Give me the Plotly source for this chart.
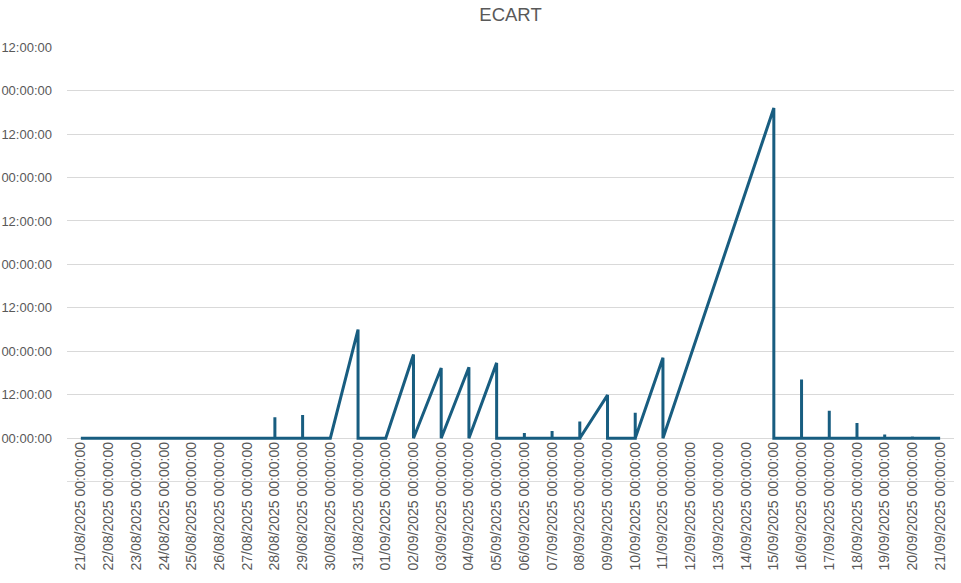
import plotly.graph_objects as go

# ECART series (hours), points in chronological order; repeated dates give vertical drops
dates = [
    "2025-08-21", "2025-08-22", "2025-08-23",
    "2025-08-24", "2025-08-24", "2025-08-24",
    "2025-08-25", "2025-08-25", "2025-08-25",
    "2025-08-26", "2025-08-26", "2025-08-26",
    "2025-08-27", "2025-08-27", "2025-08-27",
    "2025-08-28", "2025-08-28", "2025-08-28",
    "2025-08-29", "2025-08-29", "2025-08-29",
    "2025-08-30",
    "2025-08-31", "2025-08-31",
    "2025-09-01",
    "2025-09-02", "2025-09-02",
    "2025-09-03", "2025-09-03",
    "2025-09-04", "2025-09-04",
    "2025-09-05", "2025-09-05",
    "2025-09-06", "2025-09-06", "2025-09-06",
    "2025-09-07", "2025-09-07", "2025-09-07",
    "2025-09-08", "2025-09-08", "2025-09-08",
    "2025-09-09", "2025-09-09",
    "2025-09-10", "2025-09-10", "2025-09-10",
    "2025-09-11", "2025-09-11",
    "2025-09-15", "2025-09-15",
    "2025-09-16", "2025-09-16", "2025-09-16",
    "2025-09-17", "2025-09-17", "2025-09-17",
    "2025-09-18", "2025-09-18", "2025-09-18",
    "2025-09-19", "2025-09-19", "2025-09-19",
    "2025-09-20", "2025-09-20", "2025-09-20",
    "2025-09-21",
]
ecart_hours = [
    0, 0, 0,
    0, 0.4, 0,
    0, 0.4, 0,
    0, 0.4, 0,
    0, 0.4, 0,
    0, 5.8, 0,
    0, 6.4, 0,
    0,
    30.0, 0,
    0,
    23.1, 0,
    19.4, 0,
    19.6, 0,
    20.8, 0,
    0, 1.4, 0,
    0, 2.0, 0,
    0, 4.6, 0,
    11.9, 0,
    0, 7.0, 0,
    22.2, 0,
    91.2, 0,
    0, 16.2, 0,
    0, 7.6, 0,
    0, 4.2, 0,
    0, 1.0, 0,
    0, 0.5, 0,
    0,
]

y_tick_vals = [-12, 0, 12, 24, 36, 48, 60, 72, 84, 96, 108]
y_tick_text = ["", "00:00:00", "12:00:00", "00:00:00", "12:00:00", "00:00:00",
               "12:00:00", "00:00:00", "12:00:00", "00:00:00", "12:00:00"]
y_min_grid = y_tick_vals[0]

FONT = "Liberation Sans, Arial, sans-serif"
GREY = "#595959"
GRID = "#D9D9D9"

fig = go.Figure(go.Scatter(
    x=dates, y=ecart_hours, mode="lines",
    line=dict(color="#185D80", width=3),
    hoverinfo="skip",
))

fig.update_layout(
    width=961, height=583,
    margin=dict(l=67, r=7, t=47, b=101, autoexpand=False),
    paper_bgcolor="white", plot_bgcolor="white",
    showlegend=False,
    title=dict(text="ECART", x=0.5, xref="paper", xanchor="center",
               y=1 - 15 / 583, yref="container", yanchor="middle",
               font=dict(family=FONT, size=18.5, color=GREY)),
    font=dict(family=FONT, color=GREY),
)

# bottom gridline (the unlabeled -12h line that the labels cross)
fig.add_shape(type="line", xref="paper", x0=0, x1=1, yref="y",
              y0=y_min_grid, y1=y_min_grid, line=dict(color=GRID, width=1),
              layer="below")

fig.update_xaxes(
    type="date",
    range=["2025-08-20 12:00", "2025-09-21 12:00"],
    tickmode="linear", tick0="2025-08-21", dtick=86400000,
    tickformat="%d/%m/%Y %H:%M:%S", tickangle=-90,
    tickfont=dict(family=FONT, size=14, color=GREY),
    showgrid=False, zeroline=False, showline=False,
    anchor="free", position=12.1 / 120.15,
    ticks="", automargin=False,
)

fig.update_yaxes(
    range=[-12.1, 108.05],
    tickmode="array", tickvals=y_tick_vals, ticktext=y_tick_text,
    tickfont=dict(family=FONT, size=13, color=GREY),
    showgrid=True, gridcolor=GRID, gridwidth=1,
    zeroline=False, showline=False, ticks="",
    ticklabelstandoff=14, automargin=False,
)

fig.write_html(
    "out.html",
    config={"displayModeBar": False},
    post_script="document.body.style.margin='0';document.body.style.overflow='hidden';",
)
